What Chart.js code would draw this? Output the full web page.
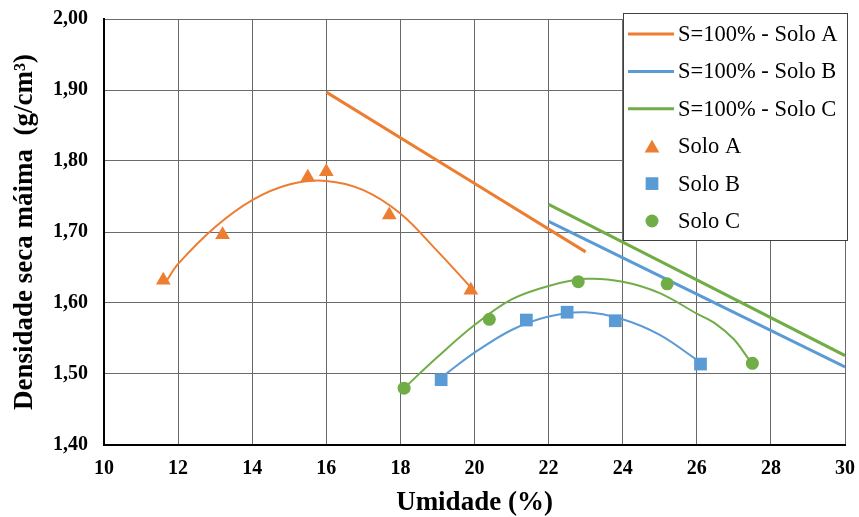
<!DOCTYPE html>
<html>
<head>
<meta charset="utf-8">
<script src="https://cdn.jsdelivr.net/npm/chart.js@4.4.1/dist/chart.umd.min.js"></script>
<style>
  body { margin: 0; background: #fff; }
  #wrap { width: 859px; height: 517px; }
</style>
</head>
<body>
<div id="wrap"><canvas id="chart" width="859" height="517"></canvas></div>
<script>
// pontos medidos
const soloAx = [11.6, 13.2, 15.5, 16.0, 17.7, 19.9];
const soloAy = [1.632, 1.696, 1.777, 1.785, 1.724, 1.618];
const soloBx = [19.1, 21.4, 22.5, 23.8, 26.1];
const soloBy = [1.492, 1.576, 1.587, 1.575, 1.514];
const soloCx = [18.1, 20.4, 22.8, 25.2, 27.5];
const soloCy = [1.480, 1.577, 1.630, 1.627, 1.515];

// linhas de saturação S=100%
const satAx = [16.0, 23.0];
const satAy = [1.897, 1.672];
const satBx = [22.0, 30.0];
const satBy = [1.715, 1.510];
const satCx = [22.0, 30.0];
const satCy = [1.739, 1.526];

// curvas de compactação
const curvaAx = [11.7, 12, 13, 14, 15, 16, 17, 18, 19, 19.9];
const curvaAy = [1.632, 1.655, 1.707, 1.745, 1.767, 1.772, 1.759, 1.726, 1.673, 1.622];
const curvaBx = [19.2, 20, 21, 22, 23, 24, 25, 26.0];
const curvaBy = [1.499, 1.530, 1.562, 1.581, 1.587, 1.577, 1.555, 1.520];
const curvaCx = [18.2, 19, 20, 21, 22, 23, 24, 25, 26, 26.5, 27, 27.4];
const curvaCy = [1.485, 1.524, 1.569, 1.605, 1.624, 1.634, 1.630, 1.614, 1.585, 1.571, 1.549, 1.521];

const xTicks = [10, 12, 14, 16, 18, 20, 22, 24, 26, 28, 30];
const yTicks = [1.40, 1.50, 1.60, 1.70, 1.80, 1.90, 2.00];

const laranja = "#ED7D31";
const azul = "#5B9BD5";
const verde = "#70AD47";
const serif = "'Liberation Serif', 'Times New Roman', serif";

const pts = (xs, ys) => xs.map((x, i) => ({ x, y: ys[i] }));

const linha = (label, xs, ys, color, width, order) => ({
  label,
  data: pts(xs, ys),
  showLine: true,
  borderColor: color,
  backgroundColor: color,
  borderWidth: width,
  pointRadius: 0,
  tension: 0.35,
  order
});

const marcas = (label, xs, ys, color, style, radius) => ({
  label,
  data: pts(xs, ys),
  showLine: false,
  pointStyle: style,
  pointRadius: radius,
  pointHoverRadius: radius,
  backgroundColor: color,
  borderColor: color,
  borderWidth: 0,
  order: 0
});

const datasets = [
  linha("S=100% - Solo A", satAx, satAy, laranja, 3, 2),
  linha("S=100% - Solo B", satBx, satBy, azul, 3, 2),
  linha("S=100% - Solo C", satCx, satCy, verde, 3, 2),
  marcas("Solo A", soloAx, soloAy, laranja, "triangle", 8.5),
  marcas("Solo B", soloBx, soloBy, azul, "rect", 9),
  marcas("Solo C", soloCx, soloCy, verde, "circle", 6.5),
  linha("curva A", curvaAx, curvaAy, laranja, 2, 3),
  linha("curva B", curvaBx, curvaBy, azul, 2, 3),
  linha("curva C", curvaCx, curvaCy, verde, 2, 3)
];

// legenda em caixa dentro da área do gráfico
const legendaBox = {
  id: "legendaBox",
  afterDraw(chart) {
    const { ctx, chartArea } = chart;
    const w = 224, h = 227;
    const left = chartArea.right - 222;
    const top = chartArea.top - 6;
    ctx.save();
    ctx.fillStyle = "#fff";
    ctx.fillRect(left, top, w, h);
    ctx.strokeStyle = "#404040";
    ctx.lineWidth = 1;
    ctx.strokeRect(Math.round(left) + 0.5, Math.round(top) + 0.5, w, h);
    ctx.font = "22.5px " + serif;
    ctx.textBaseline = "middle";
    const step = 37.4;
    for (let i = 0; i < 6; i++) {
      const ds = chart.data.datasets[i];
      const cy = top + 21 + i * step;
      if (i < 3) {
        ctx.strokeStyle = ds.borderColor;
        ctx.lineWidth = 3;
        ctx.beginPath();
        ctx.moveTo(left + 5, cy);
        ctx.lineTo(left + 51, cy);
        ctx.stroke();
      } else {
        ctx.fillStyle = ds.backgroundColor;
        Chart.helpers.drawPoint(ctx, { pointStyle: ds.pointStyle, radius: ds.pointRadius, rotation: 0, borderWidth: 0 }, left + 29, cy + (ds.pointStyle === "triangle" ? 2 : 0));
      }
      ctx.fillStyle = "#000";
      ctx.fillText(ds.label, left + 55, cy + 1);
    }
    ctx.restore();
  }
};

new Chart(document.getElementById("chart"), {
  type: "scatter",
  data: { datasets },
  options: {
    responsive: false,
    animation: false,
    layout: { padding: { left: 0, right: 14, top: 19, bottom: 0 } },
    plugins: {
      legend: { display: false },
      tooltip: { enabled: false }
    },
    scales: {
      x: {
        type: "linear",
        min: 10,
        max: 30,
        afterBuildTicks: (scale) => { scale.ticks = xTicks.map(v => ({ value: v })); },
        afterFit: (scale) => { scale.height = 72; scale.paddingLeft = 0; scale.paddingRight = 0; },
        grid: { color: "#6a6a6a", lineWidth: 1, drawTicks: false },
        border: { color: "#000", width: 2 },
        ticks: {
          padding: 12,
          color: "#000",
          font: { family: serif, size: 20, weight: "bold" }
        },
        title: {
          display: true,
          text: "Umidade (%)",
          color: "#000",
          padding: { top: 0, bottom: 0 },
          font: { family: serif, size: 27, weight: "bold", lineHeight: 1 }
        }
      },
      y: {
        type: "linear",
        min: 1.4,
        max: 2.0,
        afterBuildTicks: (scale) => { scale.ticks = yTicks.map(v => ({ value: v })); },
        afterFit: (scale) => { scale.width = 104; scale.paddingTop = 0; scale.paddingBottom = 0; },
        grid: { color: "#6a6a6a", lineWidth: 1, drawTicks: false },
        border: { color: "#000", width: 2 },
        ticks: {
          padding: 16,
          color: "#000",
          font: { family: serif, size: 20, weight: "bold" },
          callback: (v) => Number(v).toFixed(2).replace(".", ",")
        },
        title: {
          display: true,
          text: "Densidade seca máima  (g/cm³)",
          color: "#000",
          padding: { top: 12, bottom: 0 },
          font: { family: serif, size: 27, weight: "bold", lineHeight: 1 }
        }
      }
    }
  },
  plugins: [legendaBox]
});
</script>
</body>
</html>
